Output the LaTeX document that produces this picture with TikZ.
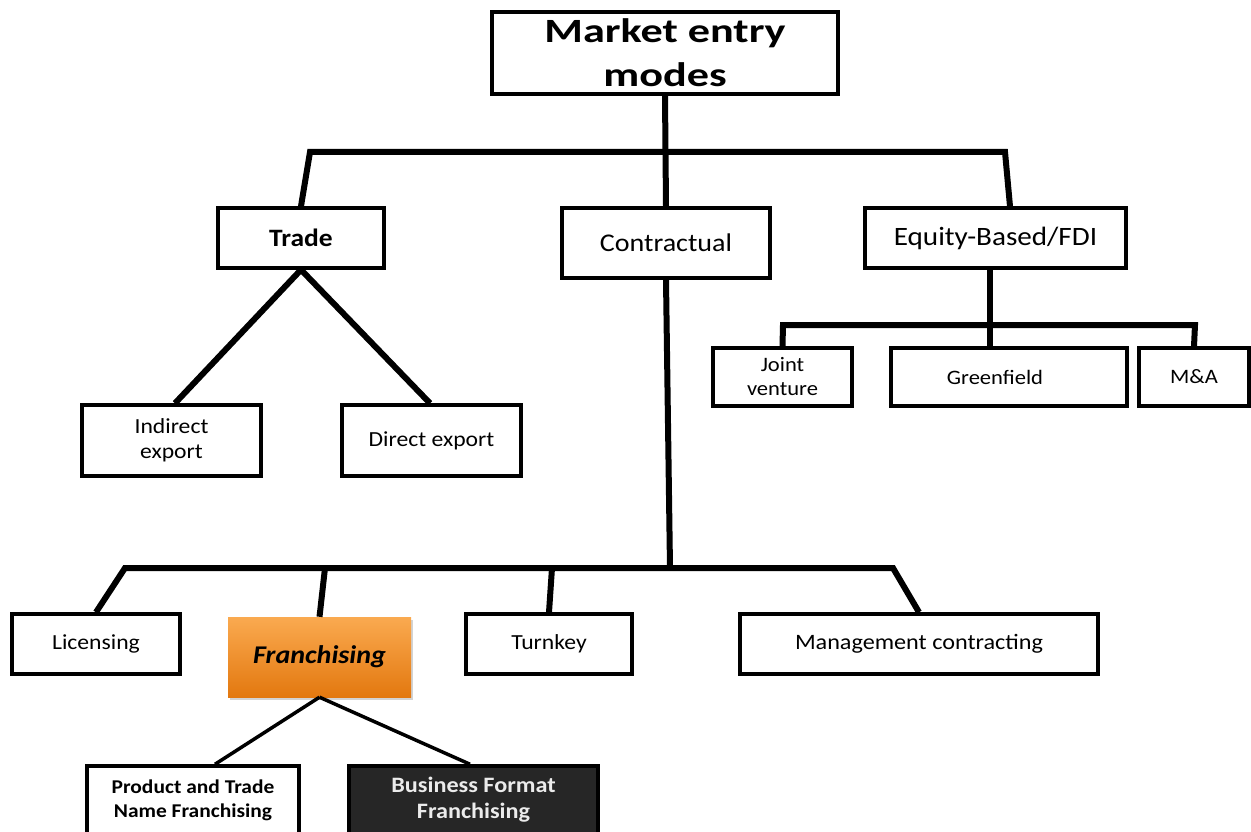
\documentclass[tikz,border=0pt]{standalone}
\usepackage{fontspec}
\setmainfont{Carlito}[FakeStretch=1.1]
\newfontfamily\rootfont{Carlito}[FakeStretch=1.3]
\usetikzlibrary{shadows}
\definecolor{orgtop}{HTML}{FAAA50}
\definecolor{orgbot}{HTML}{E3780F}
\definecolor{darkbox}{HTML}{262626}
\tikzset{
  box/.style={draw=black, line width=3.5pt, fill=white, inner sep=0pt, align=center,
    font=\fontsize{21.5}{25}\selectfont},
  conn/.style={line width=6pt, line join=miter, line cap=butt},
  thinconn/.style={line width=3.5pt, line cap=butt},
}
\begin{document}
\begin{tikzpicture}[x=1pt,y=-1pt]
\useasboundingbox (0,0) rectangle (1251,832);
\clip (0,0) rectangle (1251,832);

% nodes
\node[box, minimum width=346, minimum height=82,
  font=\rootfont\bfseries\fontsize{34}{44}\selectfont] (root) at (665,53) {Market entry\\modes};
\node[box, minimum width=166, minimum height=60, font=\bfseries\fontsize{25}{28}\selectfont] (trade) at (301,238) {Trade};
\node[box, minimum width=208, minimum height=70, font=\fontsize{25.5}{30}\selectfont] (contract) at (666,243) {Contractual};
\node[box, minimum width=261, minimum height=60, font=\fontsize{26.5}{30}\selectfont] (equity) at (995.5,238) {Equity-Based/FDI};

\node[box, minimum width=179, minimum height=71] (indirect) at (171.5,440.5) {Indirect\\export};
\node[box, minimum width=179, minimum height=71] (direct) at (431.5,440.5) {Direct export};

\node[box, minimum width=139, minimum height=58, font=\fontsize{20.5}{24}\selectfont] (jv) at (782.5,377) {Joint\\venture};
\node[box, minimum width=236, minimum height=58, font=\fontsize{20.5}{24}\selectfont] (green) at (1009,377) {\hspace*{-28pt}Greenfield};
\node[box, minimum width=110, minimum height=58, font=\fontsize{20.5}{24}\selectfont] (ma) at (1194,377) {M\&A};

\node[box, minimum width=168, minimum height=60] (lic) at (96,644) {Licensing};
\node[inner sep=0pt, minimum width=183, minimum height=80, shade, top color=orgtop, bottom color=orgbot,
  drop shadow={opacity=0.35, shadow xshift=2pt, shadow yshift=-3pt},
  font=\bfseries\itshape\fontsize{25.5}{30}\selectfont] (fran) at (319.5,657) {Franchising};
\node[box, minimum width=166, minimum height=60] (turnkey) at (549,644) {Turnkey};
\node[box, minimum width=358, minimum height=60, font=\fontsize{22}{25}\selectfont] (mgmt) at (919,644) {Management contracting};

\node[box, minimum width=212, minimum height=68, font=\bfseries\fontsize{19.5}{24}\selectfont] (prod) at (193,800) {Product and Trade\\Name Franchising};
\node[box, fill=darkbox, text=white!92!black, minimum width=249, minimum height=68, font=\bfseries\fontsize{22}{26}\selectfont] (bus) at (473.5,800) {Business Format\\Franchising};

% coordinates
\coordinate (tbl) at (310,152);
\coordinate (tbr) at (1005,152);
\coordinate (cb) at (670,568);
\coordinate (cbl) at (125,568);
\coordinate (cbr) at (893,568);
\coordinate (cf) at (325,568);
\coordinate (ct) at (552,568);
\coordinate (eb) at (990,325);
\coordinate (ebl) at (783,325);
\coordinate (ebr) at (1195,325);

% connectors
\draw[conn] (trade.north) -- (tbl) -- (tbr) -- ([xshift=14.5pt]equity.north);
\draw[conn] (root.south) -- (contract.north);
\draw[conn] (trade.south) -- ([xshift=3.5pt]indirect.north);
\draw[conn] (trade.south) -- ([xshift=-1.5pt]direct.north);

\draw[conn] ([xshift=-5.5pt]equity.south) -- (eb);
\draw[conn] (jv.north) -- (ebl) -- (ebr) -- (ma.north);
\draw[conn] (eb) -- ([xshift=-19pt]green.north);

\draw[conn] (contract.south) -- (cb);
\draw[conn] (lic.north) -- (cbl) -- (cbr) -- (mgmt.north);
\draw[conn] (cf) -- (fran.north);
\draw[conn] (ct) -- (turnkey.north);

\draw[thinconn] (fran.south) -- ([xshift=22pt]prod.north);
\draw[thinconn] (fran.south) -- ([xshift=-3.5pt]bus.north);
\end{tikzpicture}
\end{document}
